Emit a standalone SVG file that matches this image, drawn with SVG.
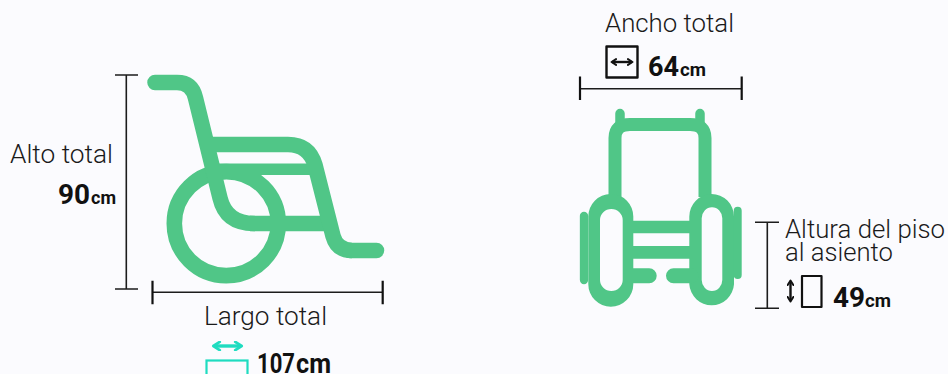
<svg xmlns="http://www.w3.org/2000/svg" width="948" height="374" viewBox="0 0 948 374">
<style>
.g{fill:none;stroke:#50c687;stroke-linecap:round;stroke-linejoin:round}
.n{stroke-linecap:butt}
.f{fill:#50c687;fill-rule:evenodd}
.d{fill:none;stroke:#1c1c1c;stroke-width:1.6}
.t{fill:none;stroke:#111;stroke-width:2.2}
.l{font-family:"Roboto","Liberation Sans",sans-serif;font-weight:300;font-size:25px;fill:#1a1a1a}
.b{font-family:"Roboto","Liberation Sans",sans-serif;font-weight:700;font-size:27px;fill:#111}
.u{font-family:"Roboto","Liberation Sans",sans-serif;font-weight:700;font-size:18px;fill:#111}
.k{fill:none;stroke:#111;stroke-linejoin:round}
.c{fill:none;stroke:#1fdcc0}
</style>
<defs>
<marker id="ah" viewBox="0 0 8 8" refX="6" refY="4" markerWidth="3" markerHeight="3" orient="auto-start-reverse"><path d="M1.500 0.800L6.500 4L1.500 7.200" fill="none" stroke="context-stroke" stroke-width="2.200" stroke-linecap="round" stroke-linejoin="round"/></marker>
</defs>
<rect width="948" height="374" fill="#fbfbfe"/>
<g id="connectors">
<path class="d" d="M126.300 75V289"/>
<path class="d" d="M115 75H138M115 289H138"/>
<path class="d" d="M152.500 292.300H382.500"/>
<path class="t" d="M152.500 280.700V304.300M382.700 280.700V304.300"/>
<path class="d" d="M580 88.700H741.700"/>
<path class="t" d="M580 76.500V100M741.700 76.500V100"/>
<path class="d" d="M767.300 222.300V308.300M755 222.300H779M755 308.300H779"/>
</g>
<g id="side-chair">
<circle class="g" cx="226.300" cy="223.600" r="52" stroke-width="15.600"/>
<path class="g" stroke-width="15.500" d="M155 82.500H177Q192 82.500 195.500 98L220 198Q226 223.500 254 223.500"/>
<path class="g n" stroke-width="15.500" d="M250 223.500H332"/>
<path class="g n" stroke-width="15.500" d="M208 144.500H288Q309 144.500 315 165L333 236Q337 250.500 352 250.500"/>
<path class="g" stroke-width="15.500" d="M350 250.500H376.500"/>
<path class="g n" stroke-width="11.500" d="M216 169.300H317"/>
</g>
<g id="front-chair">
<path class="g" stroke-width="9.500" d="M620 113.500V124M700 113.500V124"/>
<path class="g n" stroke-width="13" d="M615 197V138Q615 124.500 630 124.500H690Q705 124.500 705 138V197"/>
<path class="f" d="M610.500 194H611.300A22.500 22.500 0 0 1 633.300 216.500V284.200A22.500 22.500 0 0 1 610.800 306.700A22.500 22.500 0 0 1 588.300 284.200V216.500A22.500 22.500 0 0 1 610.500 194ZM611.300 209A11.300 11 0 0 0 600 220V280A11.300 11 0 0 0 622.700 280V220A11.300 11 0 0 0 611.300 209Z"/>
<path class="f" d="M711.500 194A22.500 22.500 0 0 1 734 216.500V284.200A22.400 22.500 0 0 1 689.300 284.200V216.500A22.300 22.500 0 0 1 711.500 194ZM712 207.300A10.300 11 0 0 0 701.700 218.300V280A10.300 11 0 0 0 722.300 280V218.300A10.300 11 0 0 0 712 207.300Z"/>
<path class="g" stroke-width="8.300" d="M584 216V280"/>
<path class="g" stroke-width="8" d="M737.700 210.700V275"/>
<path class="f" d="M632 220.700H691V233.300H632ZM632 246H691V258.700H632Z"/>
<path class="g" stroke-width="15" d="M632 275.800H649.200M673.500 275.800H691"/>
</g>
<g id="label-alto">
<text class="l" x="10" y="163" textLength="103" lengthAdjust="spacingAndGlyphs">Alto total</text>
<text class="b" x="58" y="204" textLength="32" lengthAdjust="spacingAndGlyphs">90</text>
<text class="u" x="91" y="204" textLength="25" lengthAdjust="spacingAndGlyphs">cm</text>
</g>
<g id="label-largo">
<text class="l" x="204" y="325" textLength="123" lengthAdjust="spacingAndGlyphs">Largo total</text>
<path class="c" stroke-width="3.400" marker-start="url(#ah)" marker-end="url(#ah)" d="M214 346H241"/>
<rect class="c" stroke-width="2.200" x="206.500" y="360.500" width="41" height="20"/>
<text class="b" x="257" y="373" textLength="38" lengthAdjust="spacingAndGlyphs">107</text>
<text class="b" x="296" y="373" textLength="35" lengthAdjust="spacingAndGlyphs">cm</text>
</g>
<g id="label-ancho">
<text class="l" x="605" y="32" textLength="129" lengthAdjust="spacingAndGlyphs">Ancho total</text>
<rect class="k" stroke-width="2.400" x="606.500" y="46.500" width="31" height="31"/>
<path class="k" stroke-width="2.400" marker-start="url(#ah)" marker-end="url(#ah)" d="M612 62H632"/>
<text class="b" x="648" y="76" textLength="31" lengthAdjust="spacingAndGlyphs">64</text>
<text class="u" x="680" y="76" textLength="26" lengthAdjust="spacingAndGlyphs">cm</text>
</g>
<g id="label-altura">
<text class="l" x="785" y="238" textLength="160" lengthAdjust="spacingAndGlyphs">Altura del piso</text>
<text class="l" x="785" y="261" textLength="108" lengthAdjust="spacingAndGlyphs">al asiento</text>
<path class="k" stroke-width="2.400" marker-start="url(#ah)" marker-end="url(#ah)" d="M790.500 281V301"/>
<rect class="k" stroke-width="2.200" x="802" y="276" width="19.500" height="31"/>
<text class="b" x="833" y="307" textLength="32" lengthAdjust="spacingAndGlyphs">49</text>
<text class="u" x="865" y="307" textLength="26" lengthAdjust="spacingAndGlyphs">cm</text>
</g>
</svg>
